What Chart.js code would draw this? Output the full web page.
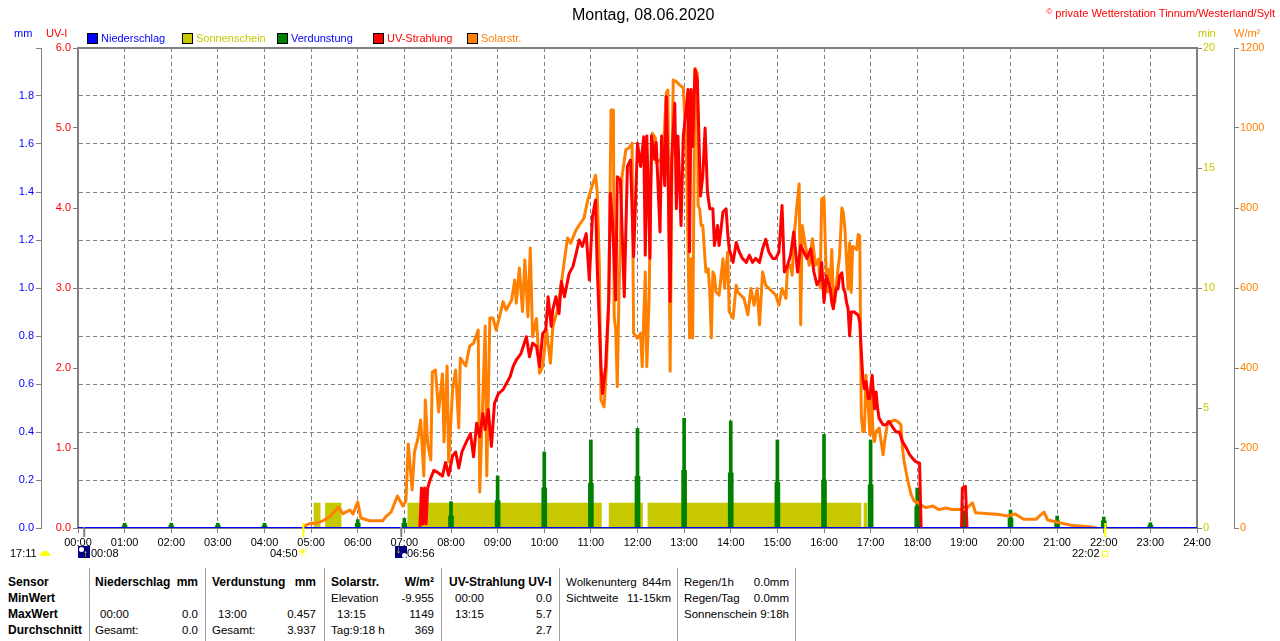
<!DOCTYPE html>
<html>
<head>
<meta charset="utf-8">
<title>Montag, 08.06.2020</title>
<script src="https://cdn.jsdelivr.net/npm/chart.js@4.4.0/dist/chart.umd.min.js"></script>
<style>
  body { margin: 0; background: #fff; font-family: "Liberation Sans", Arial, sans-serif; }
  #page { position: relative; width: 1280px; height: 641px; overflow: hidden; }
  #chartBox { position: absolute; left: 0; top: 0; width: 1280px; height: 560px; }
  .t { position: absolute; white-space: nowrap; font-size: 11px; line-height: 14px; }
  .sq { position: absolute; top: 33px; width: 9px; height: 9px; border: 1px solid #000; }
  .sep { position: absolute; top: 568px; width: 1px; height: 73px; background: #a0a0a0; }
  .cell { position: absolute; white-space: nowrap; font-size: 11.5px; line-height: 14px; color: #000; }
  .cell.b { font-weight: bold; font-size: 12px; }
  .moonbox { position: absolute; top: 546px; width: 12px; height: 12px; background: #000080; overflow: hidden; }
</style>
</head>
<body>
<div id="page">
  <div id="chartBox"><canvas id="chart"></canvas></div>

  <div class="t" style="left:572px; top:6px; font-size:16px; line-height:18px;">Montag, 08.06.2020</div>
  <div class="t" style="right:5px; top:5px; color:#ff0000;"><span style="font-size:8px; vertical-align:3px;">©</span> private Wetterstation Tinnum/Westerland/Sylt</div>

  <div class="t" style="left:14px; top:26px; color:#0000ff;">mm</div>
  <div class="t" style="left:46px; top:26px; color:#ff0000;">UV-I</div>
  <div class="t" style="left:1198px; top:26px; color:#c8c800;">min</div>
  <div class="t" style="left:1234px; top:26px; color:#ff8000;">W/m²</div>

  <div id="legend"></div>

  <div class="t" style="left:10px; top:546px;">17:11</div>
  <div style="position:absolute; left:40px; top:551px; width:10px; height:5px; border-radius:5px 5px 0 0; background:#ffff00;"></div>
  <div class="moonbox" style="left:78px;">
    <div style="position:absolute; left:1px; top:1px; width:5px; height:5px; border-radius:3px; background:#fff;"></div>
    <div style="position:absolute; left:5px; top:3px; color:#ffff00; font-size:10px; line-height:10px; font-weight:bold;">↑</div>
  </div>
  <div class="t" style="left:91px; top:546px;">00:08</div>
  <div class="t" style="left:270px; top:546px;">04:50</div>
  <div style="position:absolute; left:297px; top:546px; color:#ffff00; font-family:'DejaVu Sans'; font-size:12px; line-height:13px;">☀</div>
  <div class="moonbox" style="left:395px;">
    <div style="position:absolute; left:7px; top:7px; width:5px; height:5px; border-radius:3px; background:#fff;"></div>
    <div style="position:absolute; left:1px; top:-1px; color:#ffff00; font-size:10px; line-height:10px; font-weight:bold;">↓</div>
  </div>
  <div class="t" style="left:407px; top:546px;">06:56</div>
  <div class="t" style="left:1072px; top:546px;">22:02</div>
  <div style="position:absolute; left:1102px; top:551px; width:4px; height:4px; border:1px solid #ffff00;"></div>

  <div id="table"></div>
</div>

<script>
// ---- values (time in minutes after midnight) ----
const solarData = [
  [290,0],[294,8],[300,12],[307,12],[315,18],[324,28],[335,52],[341,36],[350,45],[354,35],
  [360,65],[364,25],[375,18],[392,18],[396,28],[403,40],[411,80],[418,55],[422,68],[425,210],
  [430,95],[433,190],[437,220],[441,270],[445,130],[447,320],[450,210],[454,170],[456,390],[460,395],
  [464,290],[469,385],[471,215],[475,405],[477,165],[482,345],[486,395],[490,250],[492,425],[499,405],
  [504,455],[509,462],[515,495],[517,90],[524,505],[526,130],[530,525],[534,525],[538,495],[543,532],
  [547,566],[551,545],[558,570],[562,620],[564,562],[568,650],[572,541],[575,670],[579,528],[582,700],
  [585,478],[590,524],[594,387],[598,403],[603,495],[608,412],[611,503],[617,545],[622,612],[626,670],
  [630,725],[634,712],[640,741],[645,758],[651,774],[656,820],[660,845],[664,870],[666,882],[668,845],
  [671,653],[673,320],[677,303],[680,403],[683,570],[686,1045],[689,1045],[690,528],[692,495],[694,353],
  [696,570],[700,878],[705,946],[709,950],[713,962],[715,487],[720,474],[724,487],[726,403],[730,640],
  [732,403],[735,578],[737,862],[739,987],[743,975],[744,913],[749,920],[753,930],[757,1087],[759,1095],
  [762,392],[764,840],[766,1120],[770,1116],[774,1108],[779,1100],[783,938],[787,475],[789,673],[791,475],
  [794,1149],[797,1137],[798,806],[800,797],[802,756],[804,756],[808,640],[811,648],[813,590],[815,475],
  [817,640],[819,632],[821,590],[825,582],[830,673],[832,599],[836,690],[838,541],[843,524],[847,607],
  [849,590],[853,582],[857,574],[862,533],[866,599],[870,557],[874,599],[877,508],[881,640],[885,607],
  [889,599],[894,590],[898,582],[902,557],[906,599],[911,574],[913,648],[917,657],[919,632],[922,740],
  [926,822],[928,860],[930,508],[932,756],[936,707],[941,657],[945,723],[949,657],[953,673],[955,600],
  [957,822],[960,826],[962,690],[964,590],[965,647],[968,610],[970,696],[972,580],[974,564],[976,610],
  [978,647],[980,680],[983,800],[985,787],[987,746],[989,671],[991,597],[993,713],[995,589],[997,704],
  [1002,696],[1004,734],[1006,730],[1008,282],[1010,241],[1012,241],[1014,382],[1017,300],[1019,233],[1021,365],
  [1023,233],[1025,216],[1027,241],[1031,250],[1036,183],[1038,216],[1040,241],[1042,266],[1046,266],[1051,270],
  [1055,266],[1059,258],[1061,200],[1063,167],[1068,117],[1072,84],[1076,67],[1081,63],[1087,55],[1091,51],
  [1100,55],[1108,46],[1117,50],[1125,46],[1134,46],[1140,46],[1144,50],[1151,63],[1155,38],[1168,36],
  [1185,34],[1196,30],[1206,35],[1217,22],[1233,22],[1243,40],[1248,20],[1259,15],[1280,6],[1301,3],[1311,0]
];

const uvData = [
  [440,0],[442,0.5],[444,0.05],[446,0.5],[448,0.05],[450,0.5],[453,0.6],[458,0.72],[462,0.7],[469,0.65],
  [473,0.82],[477,0.66],[482,0.9],[486,0.95],[490,0.75],[494,0.95],[499,1.06],[505,1.18],[509,0.89],[513,1.31],
  [517,1.14],[521,1.43],[524,1.23],[528,1.48],[532,1.02],[536,1.56],[541,1.68],[547,1.73],[556,1.89],[560,2.02],
  [564,2.1],[570,2.18],[577,2.39],[581,2.14],[585,2.31],[590,2.27],[594,2.02],[598,2.43],[602,2.48],[605,2.89],
  [609,2.52],[611,2.73],[615,2.89],[619,2.68],[622,3.08],[626,2.89],[632,3.18],[637,3.27],[641,3.43],[645,3.6],
  [649,3.52],[654,3.68],[658,3.1],[662,3.89],[666,4.1],[668,3.31],[673,2.02],[675,1.68],[679,2.02],[683,2.85],
  [685,4.18],[688,3.8],[692,2.85],[694,4.39],[698,4.35],[703,2.89],[707,4.52],[711,4.6],[715,3.39],[720,4.81],
  [724,4.52],[728,4.89],[730,3.41],[732,4.9],[736,3.37],[738,4.9],[742,4.61],[744,4.82],[749,3.7],[751,4.9],
  [755,4.28],[757,5.39],[759,4.61],[762,2.83],[764,4.61],[768,5.31],[770,3.99],[772,4.9],[776,3.78],[779,4.9],
  [783,5.27],[785,5.48],[787,3.45],[789,5.48],[791,4.77],[794,5.73],[797,5.6],[799,4.9],[801,4.15],[804,4.4],
  [807,5.0],[810,4.2],[813,3.99],[817,3.99],[819,3.53],[823,3.78],[825,3.53],[830,3.95],[834,3.99],[836,3.7],
  [838,3.49],[843,3.32],[847,3.57],[851,3.45],[855,3.37],[860,3.32],[864,3.41],[868,3.32],[872,3.37],[877,3.32],
  [881,3.49],[885,3.61],[889,3.45],[894,3.37],[898,3.37],[902,3.45],[906,4.03],[909,3.2],[913,3.28],[917,3.41],
  [921,3.7],[926,3.2],[930,3.53],[934,3.45],[938,3.37],[943,3.49],[947,3.2],[951,3.04],[955,3.11],[957,3.32],
  [960,2.82],[963,3.15],[968,3.0],[970,2.82],[972,2.74],[974,2.9],[976,3.0],[978,2.99],[980,3.15],[983,3.19],
  [985,2.99],[987,2.95],[989,2.82],[991,2.74],[993,2.4],[995,2.7],[999,2.7],[1004,2.66],[1006,2.57],[1008,2.2],
  [1010,1.87],[1012,1.74],[1014,1.83],[1017,1.62],[1019,1.62],[1021,1.83],[1022,1.91],[1025,1.49],[1027,1.7],[1029,1.49],
  [1031,1.37],[1036,1.29],[1040,1.29],[1044,1.33],[1049,1.25],[1053,1.2],[1057,1.2],[1061,1.08],[1066,1.0],[1070,0.92],
  [1074,0.87],[1078,0.83],[1083,0.81],[1085,0],[1110,null],[1137,0],[1138,0.5],[1142,0.52],[1144,0]
];

const evapHours = [1,2,3,4,5,6,7,8,9,10,11,12,13,14,15,16,17,18,19,20,21,22,23];
const evapPeak  = [0.02,0.02,0.02,0.02,0,0.035,0.04,0.11,0.217,0.317,0.367,0.415,0.457,0.446,0.367,0.39,0.367,0.167,0.09,0.075,0.05,0.046,0.022];
const evapBase  = [0.01,0.01,0.01,0.01,0,0.02,0.02,0.05,0.114,0.167,0.186,0.215,0.24,0.23,0.19,0.2,0.18,0.09,0.04,0.04,0.03,0.03,0.012];

const sunStart = [303, 318, 424, 683, 733, 1011];
const sunEnd   = [312, 339, 674, 727, 1008, 1016];
const sunLevel = 1.05;

const rainTimes  = [0, 1440];
const rainValues = [0, 0];

const sunMarks  = [290, 1322];   // 04:50 sunrise, 22:02 sunset
const moonMarks = [8, 416];      // 00:08, 06:56

// ---- build datasets ----
const toXY = arr => arr.map(p => ({ x: p[0], y: p[1] }));
const sunPoints = [];
sunStart.forEach((s, i) => {
  sunPoints.push({ x: s, y: 0 }, { x: s, y: sunLevel }, { x: sunEnd[i], y: sunLevel }, { x: sunEnd[i], y: 0 });
});

const gray = "#808080";
const tickFont = { family: "Liberation Sans", size: 11 };

const framePlugin = {
  id: "frame",
  beforeDatasetsDraw(chart) {
    const { ctx, chartArea: a } = chart;
    ctx.save();
    ctx.strokeStyle = gray;
    ctx.lineWidth = 2;
    ctx.strokeRect(a.left, a.top, a.right - a.left, a.bottom - a.top);
    ctx.restore();
  },
  afterDraw(chart) {
    const { ctx, chartArea: a } = chart;
    const xs = chart.scales.x;
    ctx.save();
    ctx.lineWidth = 2;
    ctx.strokeStyle = "#ffff00";
    sunMarks.forEach(t => {
      const px = xs.getPixelForValue(t);
      ctx.beginPath(); ctx.moveTo(px, a.bottom - 5); ctx.lineTo(px, a.bottom + 9); ctx.stroke();
    });
    ctx.strokeStyle = gray;
    moonMarks.forEach(t => {
      const px = xs.getPixelForValue(t);
      ctx.beginPath(); ctx.moveTo(px, a.bottom - 1); ctx.lineTo(px, a.bottom + 9); ctx.stroke();
    });
    ctx.restore();
  }
};

new Chart(document.getElementById("chart"), {
  type: "line",
  data: {
    datasets: [
      {
        label: "Niederschlag", data: rainTimes.map((t, i) => ({ x: t, y: rainValues[i] })),
        borderColor: "#0000ff", borderWidth: 2, pointRadius: 0, yAxisID: "yMM", order: 0
      },
      {
        label: "UV-Strahlung", data: toXY(uvData),
        borderColor: "#ff0000", borderWidth: 3, pointRadius: 0, borderJoinStyle: "round",
        yAxisID: "yUV", order: 1
      },
      {
        label: "Solarstr.", data: toXY(solarData),
        borderColor: "#ff8000", borderWidth: 3, pointRadius: 0, borderJoinStyle: "round",
        yAxisID: "yW", order: 2
      },
      {
        type: "bar", label: "Verdunstung", data: evapHours.map((h, i) => ({ x: h * 60, y: evapPeak[i] })),
        backgroundColor: "#008000", barThickness: 3, grouped: false, yAxisID: "yMM", order: 3
      },
      {
        type: "bar", label: "Verdunstung2", data: evapHours.map((h, i) => ({ x: h * 60, y: evapBase[i] })),
        backgroundColor: "#008000", barThickness: 5, grouped: false, yAxisID: "yMM", order: 3
      },
      {
        label: "Sonnenschein", data: sunPoints,
        borderColor: "rgba(0,0,0,0)", borderWidth: 0, backgroundColor: "#c8c800",
        fill: "origin", pointRadius: 0, yAxisID: "yMin", order: 5
      }
    ]
  },
  options: {
    responsive: true,
    maintainAspectRatio: false,
    animation: false,
    events: [],
    layout: { padding: { top: 48, left: 0, right: 0, bottom: 0 } },
    plugins: { legend: { display: false }, tooltip: { enabled: false } },
    scales: {
      x: {
        type: "linear", min: 0, max: 1440, offset: false,
        afterFit: s => { s.height = 32; },
        ticks: {
          stepSize: 60, autoSkip: false, maxRotation: 0, padding: 3, color: "#000", font: tickFont,
          callback: v => String(v / 60).padStart(2, "0") + ":00"
        },
        grid: { color: gray, lineWidth: 1, offset: false, tickLength: 5, tickColor: gray },
        border: { color: gray, width: 2, dash: [4, 3] }
      },
      yMM: {
        position: "left", weight: 1, min: 0, max: 2,
        afterFit: s => { s.width = 41; },
        ticks: {
          stepSize: 0.2, padding: 2, color: "#0000ff", font: tickFont,
          callback: v => (v > 1.95 ? "" : v.toFixed(1))
        },
        grid: { color: gray, lineWidth: 1, tickLength: 5, tickColor: gray },
        border: { color: gray, width: 1, dash: [4, 3] }
      },
      yUV: {
        position: "left", weight: 0, min: 0, max: 6,
        afterFit: s => { s.width = 37; },
        ticks: { stepSize: 1, padding: 2, color: "#ff0000", font: tickFont, callback: v => v.toFixed(1) },
        grid: { drawOnChartArea: false, tickLength: 5, tickColor: gray },
        border: { color: gray, width: 2 }
      },
      yMin: {
        position: "right", weight: 0, min: 0, max: 20,
        afterFit: s => { s.width = 37; },
        ticks: { stepSize: 5, padding: 1, color: "#c8c800", font: tickFont, callback: v => String(v) },
        grid: { drawOnChartArea: false, tickLength: 5, tickColor: gray },
        border: { color: gray, width: 2 }
      },
      yW: {
        position: "right", weight: 1, min: 0, max: 1200,
        afterFit: s => { s.width = 46; },
        ticks: { stepSize: 200, padding: 1, color: "#ff8000", font: tickFont, callback: v => String(v) },
        grid: { drawOnChartArea: false, tickLength: 5, tickColor: gray },
        border: { color: gray, width: 1 }
      }
    }
  },
  plugins: [framePlugin]
});

// ---- legend ----
const legendItems = [
  ["Niederschlag", "#0000ff", "#0000ff", 87, 101],
  ["Sonnenschein", "#c8c800", "#c8c800", 182, 196],
  ["Verdunstung", "#008000", "#0000ff", 277, 291],
  ["UV-Strahlung", "#ff0000", "#ff0000", 373, 387],
  ["Solarstr.", "#ff8000", "#ff8000", 467, 481]
];
const legend = document.getElementById("legend");
legendItems.forEach(([txt, box, col, bx, tx]) => {
  const sq = document.createElement("div");
  sq.className = "sq";
  sq.style.left = bx + "px";
  sq.style.background = box;
  legend.appendChild(sq);
  const t = document.createElement("div");
  t.className = "t";
  t.style.left = tx + "px";
  t.style.top = "31px";
  t.style.color = col;
  t.textContent = txt;
  legend.appendChild(t);
});

// ---- statistics table below the chart ----
const sepX = [89, 205, 324, 441, 559, 677, 795];
const rowTop = [575, 591, 607, 623];
// [x, row, text, align, bold]
const tableCells = [
  [8, 0, "Sensor", "l", 1], [8, 1, "MinWert", "l", 1], [8, 2, "MaxWert", "l", 1], [8, 3, "Durchschnitt", "l", 1],
  [95, 0, "Niederschlag", "l", 1], [198, 0, "mm", "r", 1],
  [100, 2, "00:00", "l", 0], [198, 2, "0.0", "r", 0],
  [95, 3, "Gesamt:", "l", 0], [198, 3, "0.0", "r", 0],
  [212, 0, "Verdunstung", "l", 1], [316, 0, "mm", "r", 1],
  [218, 2, "13:00", "l", 0], [316, 2, "0.457", "r", 0],
  [212, 3, "Gesamt:", "l", 0], [316, 3, "3.937", "r", 0],
  [331, 0, "Solarstr.", "l", 1], [434, 0, "W/m²", "r", 1],
  [331, 1, "Elevation", "l", 0], [434, 1, "-9.955", "r", 0],
  [337, 2, "13:15", "l", 0], [434, 2, "1149", "r", 0],
  [331, 3, "Tag:9:18 h", "l", 0], [434, 3, "369", "r", 0],
  [449, 0, "UV-Strahlung UV-I", "l", 1],
  [455, 1, "00:00", "l", 0], [552, 1, "0.0", "r", 0],
  [455, 2, "13:15", "l", 0], [552, 2, "5.7", "r", 0],
  [552, 3, "2.7", "r", 0],
  [566, 0, "Wolkenunterg", "l", 0], [671, 0, "844m", "r", 0],
  [566, 1, "Sichtweite", "l", 0], [671, 1, "11-15km", "r", 0],
  [684, 0, "Regen/1h", "l", 0], [789, 0, "0.0mm", "r", 0],
  [684, 1, "Regen/Tag", "l", 0], [789, 1, "0.0mm", "r", 0],
  [684, 2, "Sonnenschein", "l", 0], [789, 2, "9:18h", "r", 0]
];
const table = document.getElementById("table");
sepX.forEach(x => {
  const d = document.createElement("div");
  d.className = "sep";
  d.style.left = x + "px";
  table.appendChild(d);
});
tableCells.forEach(([x, row, txt, align, bold]) => {
  const d = document.createElement("div");
  d.className = bold ? "cell b" : "cell";
  d.style.top = rowTop[row] + "px";
  if (align === "r") {
    d.style.left = (x - 150) + "px";
    d.style.width = "150px";
    d.style.textAlign = "right";
  } else {
    d.style.left = x + "px";
  }
  d.textContent = txt;
  table.appendChild(d);
});
</script>
</body>
</html>
